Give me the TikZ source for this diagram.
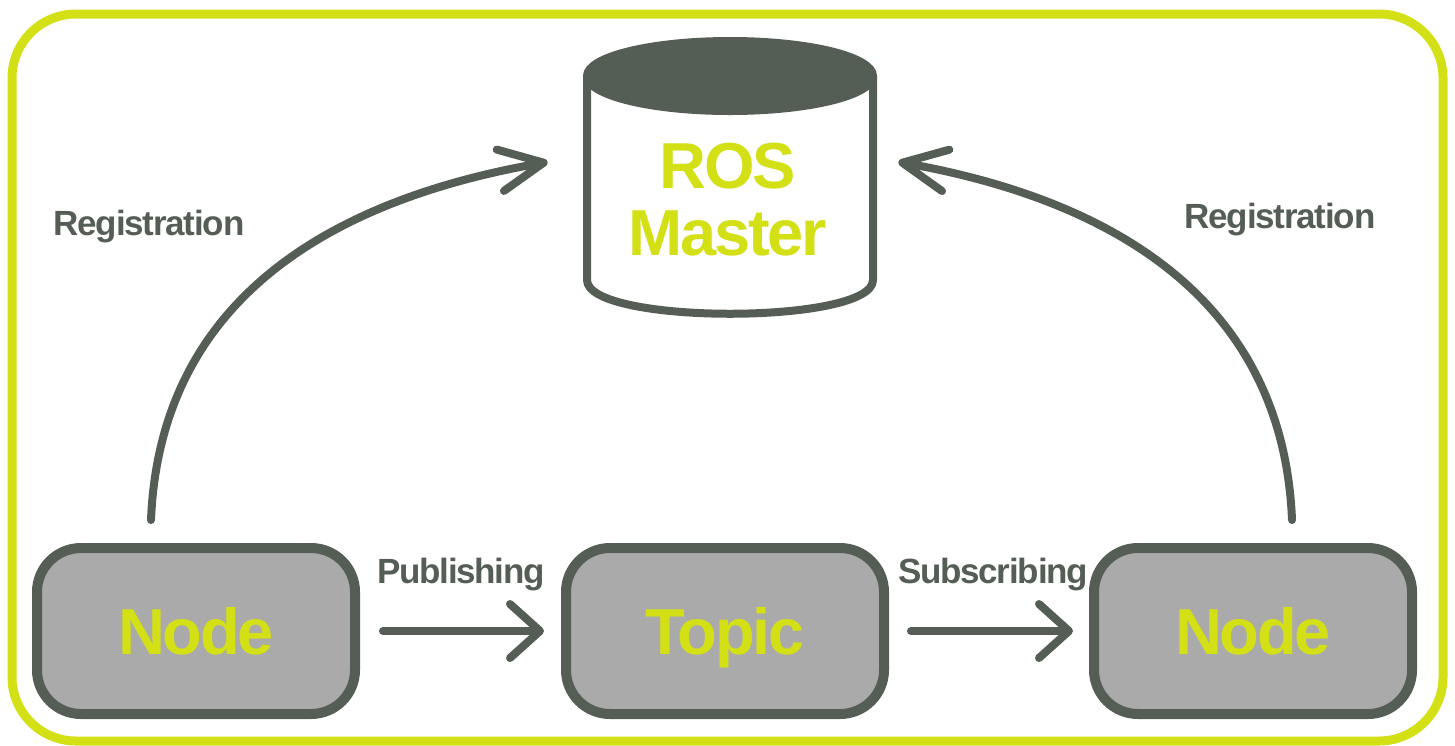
\documentclass[tikz,border=0pt]{standalone}
\usepackage{fontspec}
\setmainfont{Liberation Sans}
\newfontfamily\diagfont{Liberation Sans}[LetterSpace=-3.5]
\usetikzlibrary{arrows.meta}
\definecolor{rosgray}{HTML}{545E55}
\definecolor{roslime}{HTML}{D3E016}
\definecolor{boxfill}{HTML}{AAAAAA}

\begin{document}
\begin{tikzpicture}[x=0.5pt,y=-0.5pt,
  box/.style={draw=rosgray, line width=5pt, fill=boxfill, rounded corners=22pt,
    minimum width=159pt, minimum height=83pt, inner sep=0pt, text depth=0pt,
    text=roslime, font=\diagfont\bfseries\fontsize{32.5}{33.5}\selectfont},
  lbl/.style={text=rosgray, inner sep=0pt, font=\diagfont\bfseries\fontsize{17.5}{18}\selectfont},
  flow/.style={draw=rosgray, line width=4pt, line cap=round,
    -{Straight Barb[round, length=15pt, width=27pt]}},
  regflow/.style={draw=rosgray, line width=4pt, line cap=round,
    -{Straight Barb[round, length=22pt, width=21pt]}}]

\useasboundingbox (0,0) rectangle (1455,745);

% outer frame
\draw[roslime, line width=4.5pt, rounded corners=32pt] (12,14) rectangle (1443,741);

% ROS Master cylinder
\node[minimum width=148pt, minimum height=141pt, inner sep=0pt] (master) at (730,177) {};
\fill[white] (587,76) -- (587,280) .. controls (587,325) and (873,325) .. (873,280) -- (873,76) -- cycle;
\draw[rosgray, line width=4pt] (587,76) -- (587,280) .. controls (587,325) and (873,325) .. (873,280) -- (873,76);
\filldraw[rosgray, line width=4pt] (730,76) ellipse [x radius=143, y radius=35];
\node[text=roslime, align=center, inner sep=0pt,
  font=\diagfont\bfseries\fontsize{32.5}{33.5}\selectfont] (mastertext) at (728,200) {ROS\\Master};

% nodes and topic
\node[box] (n1) at (196,631) {Node};
\node[box] (topic) at (725,631) {Topic};
\node[box] (n2) at (1253,631) {Node};

% labels
\node[lbl, anchor=base] (regl) at (149,235) {Registration};
\node[lbl, anchor=base] (regr) at (1280,228) {Registration};
\node[lbl, anchor=base] (pub) at (461,583) {Publishing};
\node[lbl, anchor=base] (sub) at (993,583) {Subscribing};

% registration arrows
\draw[regflow] ([xshift=-22.5pt,yshift=11.5pt]n1.north)
  .. controls (160,300) and (330,200) .. ([xshift=-17pt,yshift=7.5pt]master.west);
\draw[regflow] ([xshift=19.5pt,yshift=11.5pt]n2.north)
  .. controls (1283,300) and (1113,200) .. ([xshift=10pt,yshift=7.5pt]master.east);

% message flow
\draw[flow, shorten <=11.5pt, shorten >=8.5pt] (n1.east) -- (topic.west);
\draw[flow, shorten <=11pt, shorten >=8pt] (topic.east) -- (n2.west);
\end{tikzpicture}
\end{document}
